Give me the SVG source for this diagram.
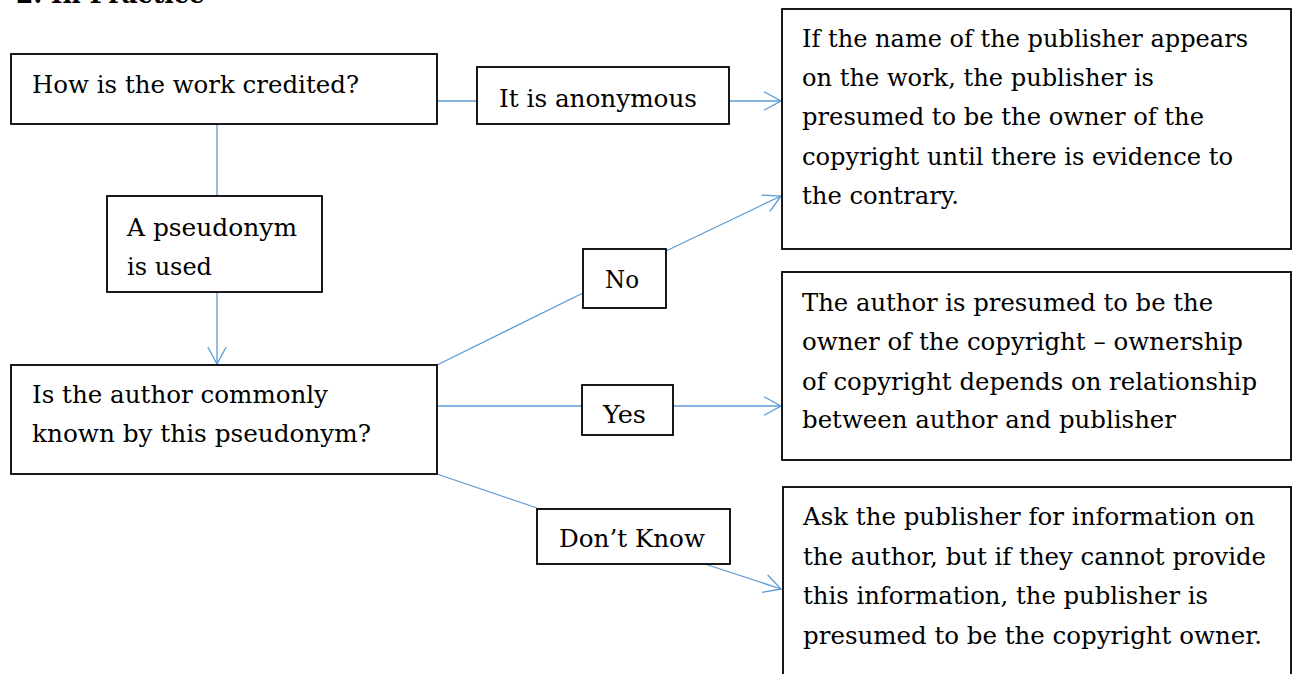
<svg xmlns="http://www.w3.org/2000/svg" width="1298" height="674" viewBox="0 0 1298 674">
<style>
.box{fill:#fff;stroke:#000;stroke-width:1.8}
.t{font-family:"DejaVu Serif","Liberation Serif",serif;font-size:24px;fill:#000}
.h{font-family:"DejaVu Serif","Liberation Serif",serif;font-size:26px;font-weight:bold;fill:#000}
.c{stroke:#5B9BD5;stroke-width:1.3;fill:none}
</style>
<defs>
<marker id="arr" markerUnits="userSpaceOnUse" viewBox="0 0 19 20" refX="18" refY="10" markerWidth="19" markerHeight="20" orient="auto">
<path d="M1,0.8 L18,10 L1,19.2" fill="none" stroke="#5B9BD5" stroke-width="1.3"/>
</marker>
</defs>
<rect width="1298" height="674" fill="#fff"/>
<text class="h" x="16" y="3" textLength="189" lengthAdjust="spacingAndGlyphs">2. In Practice</text>

<g id="connectors">
<line class="c" x1="437" y1="101" x2="477" y2="101"/>
<line class="c" x1="729" y1="101" x2="781" y2="101" marker-end="url(#arr)"/>
<line class="c" x1="217" y1="124" x2="217" y2="196"/>
<line class="c" x1="217" y1="292" x2="217" y2="364" marker-end="url(#arr)"/>
<line class="c" x1="437" y1="365" x2="583" y2="293"/>
<line class="c" x1="666" y1="251" x2="781" y2="196" marker-end="url(#arr)"/>
<line class="c" x1="437" y1="406" x2="582" y2="406"/>
<line class="c" x1="673" y1="406" x2="781" y2="406" marker-end="url(#arr)"/>
<line class="c" x1="437" y1="474" x2="537" y2="508"/>
<line class="c" x1="705" y1="564" x2="781" y2="589" marker-end="url(#arr)"/>
</g>

<g id="q1">
<rect class="box" x="11" y="54" width="426" height="70"/>
<text class="t" x="32" y="93" textLength="327" lengthAdjust="spacingAndGlyphs">How is the work credited?</text>
</g>
<g id="anon">
<rect class="box" x="477" y="67" width="252" height="57"/>
<text class="t" x="499" y="107" textLength="198" lengthAdjust="spacingAndGlyphs">It is anonymous</text>
</g>
<g id="pseudo">
<rect class="box" x="107" y="196" width="215" height="96"/>
<text class="t" x="127" y="236" textLength="170" lengthAdjust="spacingAndGlyphs">A pseudonym</text>
<text class="t" x="127" y="275" textLength="85" lengthAdjust="spacingAndGlyphs">is used</text>
</g>
<g id="q2">
<rect class="box" x="11" y="365" width="426" height="109"/>
<text class="t" x="32" y="403" textLength="296" lengthAdjust="spacingAndGlyphs">Is the author commonly</text>
<text class="t" x="32" y="442" textLength="339" lengthAdjust="spacingAndGlyphs">known by this pseudonym?</text>
</g>
<g id="no">
<rect class="box" x="583" y="249" width="83" height="59"/>
<text class="t" x="605" y="288" textLength="34" lengthAdjust="spacingAndGlyphs">No</text>
</g>
<g id="yes">
<rect class="box" x="582" y="385" width="91" height="50"/>
<text class="t" x="603" y="423" textLength="43" lengthAdjust="spacingAndGlyphs">Yes</text>
</g>
<g id="dontknow">
<rect class="box" x="537" y="509" width="193" height="55"/>
<text class="t" x="559" y="547" textLength="146" lengthAdjust="spacingAndGlyphs">Don’t Know</text>
</g>
<g id="r1">
<rect class="box" x="782" y="9" width="509" height="240"/>
<text class="t" x="802" y="47" textLength="446" lengthAdjust="spacingAndGlyphs">If the name of the publisher appears</text>
<text class="t" x="802" y="86" textLength="352" lengthAdjust="spacingAndGlyphs">on the work, the publisher is</text>
<text class="t" x="802" y="125" textLength="402" lengthAdjust="spacingAndGlyphs">presumed to be the owner of the</text>
<text class="t" x="802" y="165" textLength="431" lengthAdjust="spacingAndGlyphs">copyright until there is evidence to</text>
<text class="t" x="802" y="204" textLength="157" lengthAdjust="spacingAndGlyphs">the contrary.</text>
</g>
<g id="r2">
<rect class="box" x="782" y="272" width="509" height="188"/>
<text class="t" x="802" y="311" textLength="411" lengthAdjust="spacingAndGlyphs">The author is presumed to be the</text>
<text class="t" x="802" y="350" textLength="441" lengthAdjust="spacingAndGlyphs">owner of the copyright – ownership</text>
<text class="t" x="802" y="390" textLength="455" lengthAdjust="spacingAndGlyphs">of copyright depends on relationship</text>
<text class="t" x="802" y="428" textLength="374" lengthAdjust="spacingAndGlyphs">between author and publisher</text>
</g>
<g id="r3">
<rect class="box" x="783" y="487" width="508" height="200"/>
<text class="t" x="803" y="525" textLength="452" lengthAdjust="spacingAndGlyphs">Ask the publisher for information on</text>
<text class="t" x="803" y="565" textLength="463" lengthAdjust="spacingAndGlyphs">the author, but if they cannot provide</text>
<text class="t" x="803" y="604" textLength="405" lengthAdjust="spacingAndGlyphs">this information, the publisher is</text>
<text class="t" x="803" y="644" textLength="459" lengthAdjust="spacingAndGlyphs">presumed to be the copyright owner.</text>
</g>
</svg>
